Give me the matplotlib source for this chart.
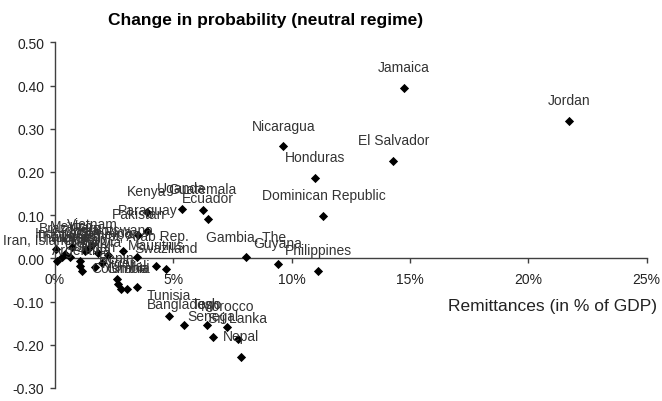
import matplotlib
matplotlib.use("Agg")
import matplotlib.pyplot as plt
from matplotlib.ticker import FuncFormatter, MultipleLocator

plt.rcParams['font.family'] = ['Liberation Sans', 'DejaVu Sans']

countries = [
    "Jamaica", "Jordan", "El Salvador", "Nicaragua", "Honduras",
    "Dominican Republic", "Philippines", "Guyana", "Gambia, The", "Ecuador",
    "Guatemala", "Uganda", "Kenya", "Paraguay", "Pakistan",
    "Egypt, Arab Rep.", "Tunisia", "Bangladesh", "Togo", "Senegal",
    "Morocco", "Sri Lanka", "Nepal", "Mauritius", "Swaziland",
    "Benin", "Niger", "Colombia", "Ghana", "Mali",
    "Iran, Islamic Rep.", "Thailand", "Turkey", "China", "Brazil",
    "India", "Mexico", "Peru", "Costa Rica", "Botswana",
    "Bolivia", "Sudan", "Argentina", "Chile", "Indonesia",
    "Cameroon", "Vietnam",
]
remittances = [
    14.75, 21.71, 14.30, 9.65, 10.99,
    11.34, 11.12, 9.41, 8.06, 6.48,
    6.24, 5.35, 3.87, 3.90, 3.52,
    3.45, 4.83, 5.45, 6.41, 6.67,
    7.28, 7.72, 7.86, 4.26, 4.69,
    2.61, 2.68, 2.78, 3.06, 3.48,
    0.08, 0.30, 0.63, 1.06, 0.05,
    1.27, 0.72, 1.39, 1.83, 2.89,
    1.97, 1.69, 1.13, 1.06, 0.42,
    2.24, 1.56,
]
prob_change = [
    0.395, 0.319, 0.226, 0.259, 0.187,
    0.099, -0.029, -0.013, 0.002, 0.091,
    0.112, 0.115, 0.107, 0.064, 0.054,
    0.003, -0.134, -0.154, -0.154, -0.181,
    -0.159, -0.186, -0.229, -0.018, -0.024,
    -0.047, -0.059, -0.071, -0.071, -0.067,
    -0.006, 0.002, 0.002, -0.006, 0.022,
    0.017, 0.027, 0.022, 0.013, 0.017,
    -0.010, -0.021, -0.029, -0.017, 0.010,
    0.008, 0.031,
]

title = "Change in probability (neutral regime)"
xlabel = "Remittances (in % of GDP)"

W, H = 662, 402
fig = plt.figure(figsize=(W / 100, H / 100), dpi=100)
left, right = 55 / W, 646.7 / W
bottom, top = 1 - 389 / H, 1 - 43.3 / H
ax = fig.add_axes([left, bottom, right - left, top - bottom])

ax.scatter(remittances, prob_change, marker='D', s=22, color='black',
           zorder=3, linewidths=0, clip_on=False)

text_color = '#333333'
for name, xv, yv in zip(countries, remittances, prob_change):
    ax.annotate(name, (xv, yv), xytext=(0, 15), textcoords='offset points',
                ha='center', va='center', fontsize=10, color=text_color,
                zorder=4, annotation_clip=False)

ax.set_xlim(0, 25)
ax.set_ylim(-0.30, 0.50)
ax.xaxis.set_major_locator(MultipleLocator(5))
ax.yaxis.set_major_locator(MultipleLocator(0.10))
ax.xaxis.set_major_formatter(FuncFormatter(lambda v, p: f"{v:.0f}%"))
ax.yaxis.set_major_formatter(FuncFormatter(lambda v, p: f"{v:.2f}"))

for s in ['top', 'right']:
    ax.spines[s].set_visible(False)
ax.spines['bottom'].set_position(('data', 0))
spine_color = '#404040'
for s in ['left', 'bottom']:
    ax.spines[s].set_color(spine_color)
    ax.spines[s].set_linewidth(1.0)
ax.tick_params(axis='y', direction='out', length=3.3, width=1.0, pad=4.5,
               labelsize=10, colors=spine_color, labelcolor='#222222')
ax.tick_params(axis='x', direction='out', length=3.6, width=1.0, pad=6.0,
               labelsize=10, colors=spine_color, labelcolor='#222222')
ax.patch.set_visible(False)

fig.text(266 / W, 1 - 20 / H, title, ha='center', va='center',
         fontsize=12.5, fontweight='bold', color='black')
fig.text(657 / W, 1 - 307 / H, xlabel, ha='right', va='center',
         fontsize=12.5, color='#222222')

fig.savefig("out.png", dpi=100)
